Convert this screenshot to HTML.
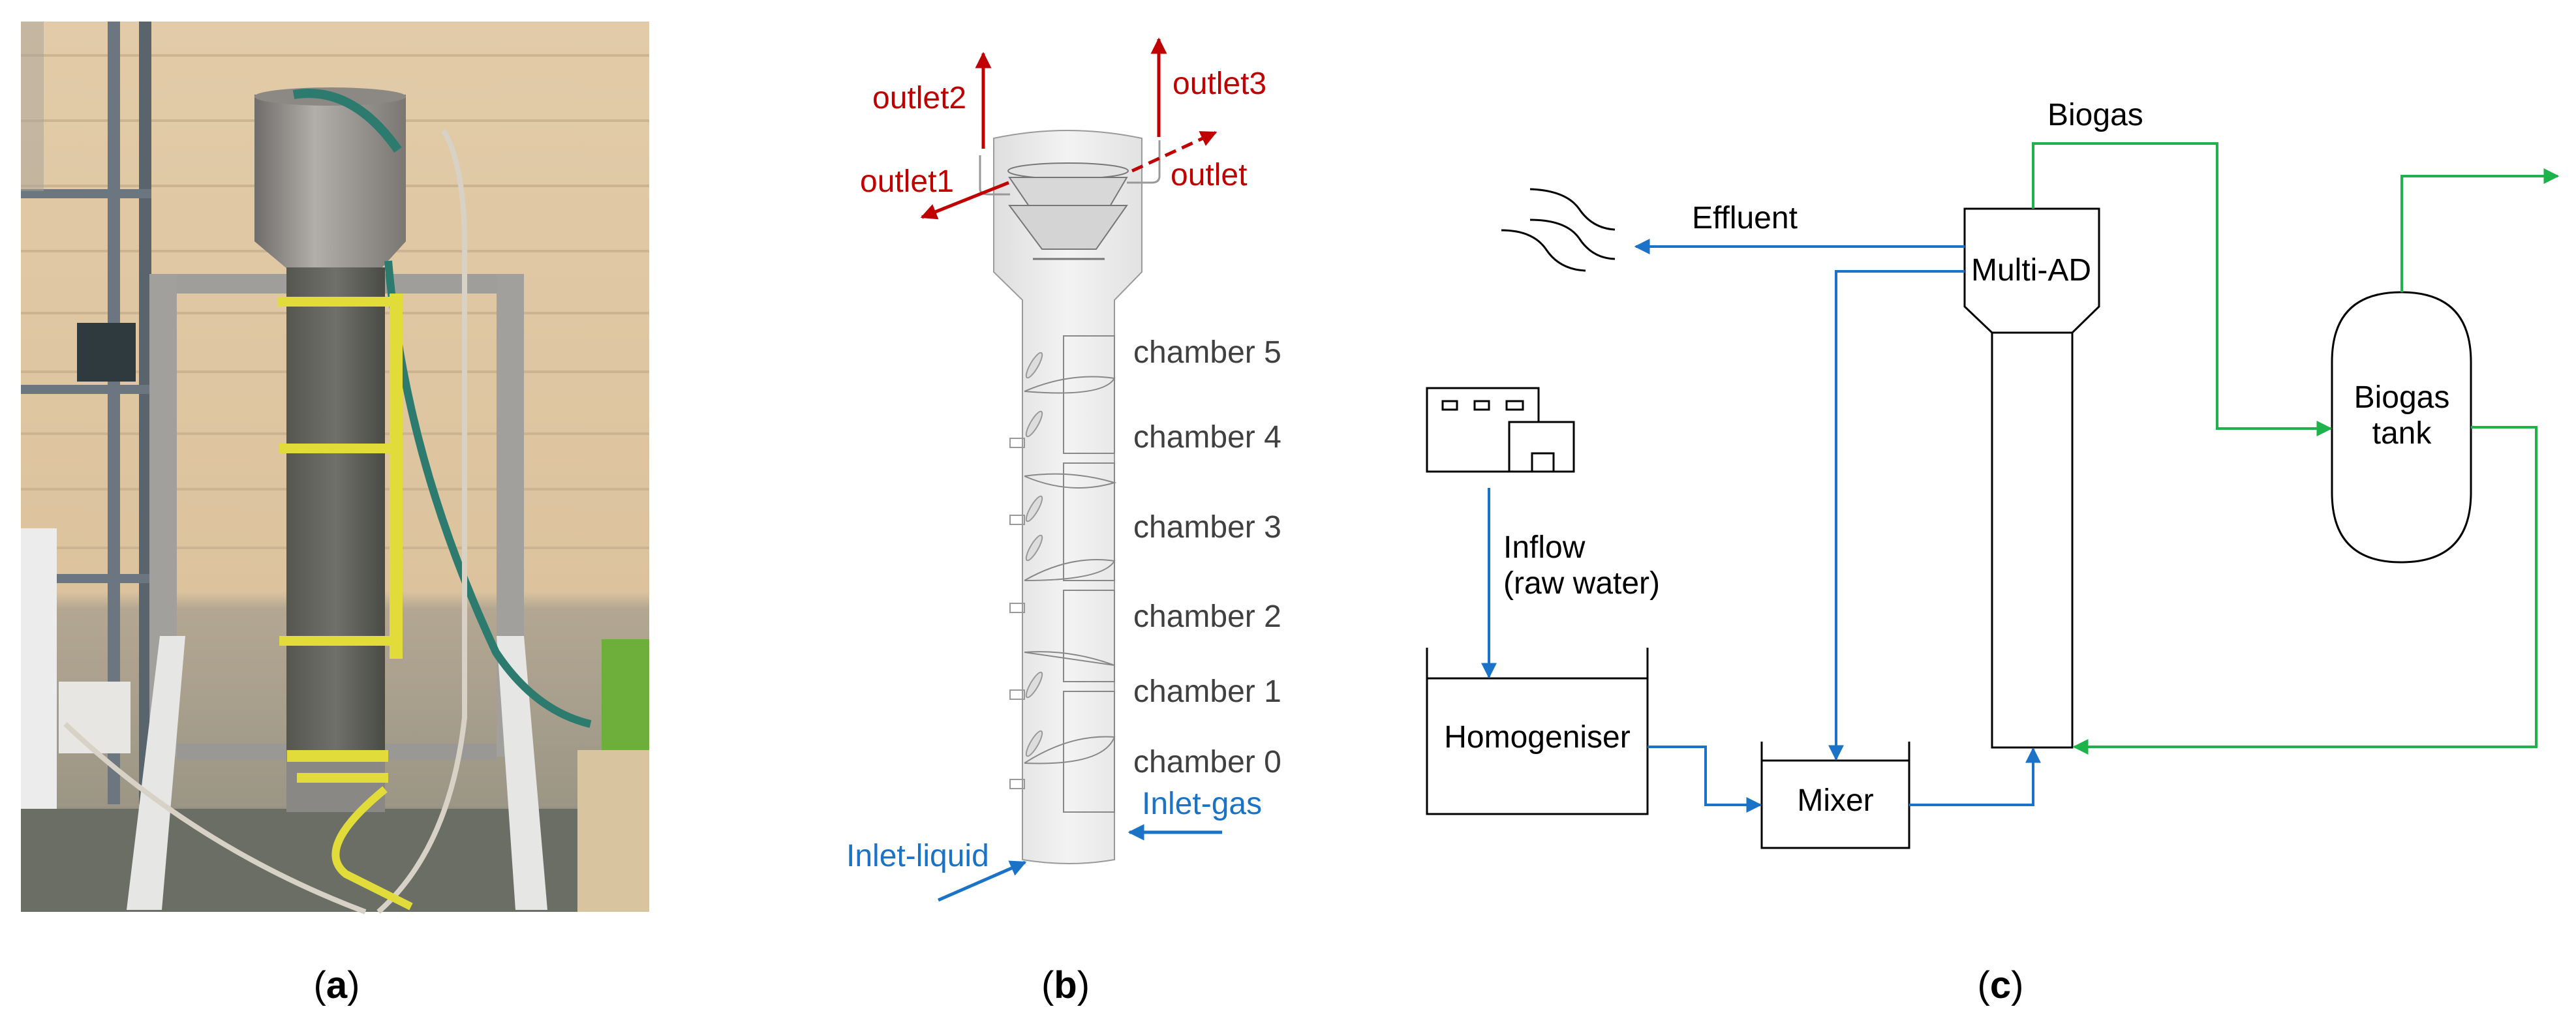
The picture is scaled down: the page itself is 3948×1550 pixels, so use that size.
<!DOCTYPE html>
<html><head><meta charset="utf-8"><style>
html,body{margin:0;padding:0;background:#fff;}
svg{display:block;}
text{font-family:"Liberation Sans",Arial,sans-serif;}
</style></head><body>
<svg width="3948" height="1550" viewBox="0 0 3948 1550" xmlns="http://www.w3.org/2000/svg">
<defs>
<marker id="ab" viewBox="0 0 10 10" refX="9" refY="5" markerWidth="6" markerHeight="6" orient="auto"><path d="M0,0 L10,5 L0,10 z" fill="#1a73c6"/></marker>
<marker id="ag" viewBox="0 0 10 10" refX="9" refY="5" markerWidth="6" markerHeight="6" orient="auto"><path d="M0,0 L10,5 L0,10 z" fill="#1db34a"/></marker>
<marker id="ar" viewBox="0 0 10 10" refX="9" refY="5" markerWidth="5" markerHeight="5" orient="auto"><path d="M0,0 L10,5 L0,10 z" fill="#c00000"/></marker>
<marker id="abl" viewBox="0 0 10 10" refX="9" refY="5" markerWidth="5" markerHeight="5" orient="auto"><path d="M0,0 L10,5 L0,10 z" fill="#1a73c6"/></marker>
<linearGradient id="wall" x1="0" y1="0" x2="0" y2="1"><stop offset="0" stop-color="#e2cba8"/><stop offset="0.64" stop-color="#dcc39e"/><stop offset="0.66" stop-color="#b3a792"/><stop offset="0.88" stop-color="#9c9686"/><stop offset="0.9" stop-color="#7c7d72"/><stop offset="1" stop-color="#6f7168"/></linearGradient>
<linearGradient id="steel" x1="0" y1="0" x2="1" y2="0"><stop offset="0" stop-color="#6f6d6a"/><stop offset="0.4" stop-color="#b2aeaa"/><stop offset="1" stop-color="#7a7773"/></linearGradient>
<linearGradient id="col" x1="0" y1="0" x2="1" y2="0"><stop offset="0" stop-color="#55574f"/><stop offset="0.5" stop-color="#6f706a"/><stop offset="1" stop-color="#4a4b45"/></linearGradient>
<linearGradient id="rb" x1="0" y1="0" x2="1" y2="0"><stop offset="0" stop-color="#dedede"/><stop offset="0.5" stop-color="#f3f3f3"/><stop offset="1" stop-color="#e2e2e2"/></linearGradient>
</defs>

<!-- (a) photo -->
<rect x="32" y="33" width="963" height="1365" fill="url(#wall)"/>
<g stroke="#c8b08e" stroke-width="4" opacity="0.8">
<line x1="32" y1="85" x2="995" y2="85"/><line x1="32" y1="185" x2="995" y2="185"/><line x1="32" y1="285" x2="995" y2="285"/><line x1="32" y1="385" x2="995" y2="385"/><line x1="32" y1="480" x2="995" y2="480"/><line x1="32" y1="570" x2="995" y2="570"/><line x1="32" y1="665" x2="995" y2="665"/><line x1="32" y1="750" x2="995" y2="750"/><line x1="32" y1="840" x2="995" y2="840"/>
</g>
<!-- shelving -->
<rect x="165" y="33" width="19" height="1200" fill="#6b7680"/>
<rect x="213" y="33" width="19" height="1200" fill="#5a646c"/>
<rect x="32" y="290" width="200" height="14" fill="#6b7680"/>
<rect x="32" y="590" width="200" height="14" fill="#6b7680"/>
<rect x="32" y="880" width="200" height="14" fill="#6b7680"/>
<rect x="32" y="33" width="35" height="260" fill="#a8a29a" opacity="0.5"/>
<rect x="118" y="495" width="90" height="90" fill="#2e3a3e"/>
<rect x="32" y="810" width="55" height="510" fill="#ececec"/>
<rect x="90" y="1045" width="110" height="110" fill="#e8e6e2"/>
<rect x="32" y="1240" width="963" height="158" fill="#6a6e64"/>
<!-- right side -->
<rect x="922" y="980" width="73" height="260" fill="#6eae3a"/>
<rect x="885" y="1150" width="110" height="248" fill="#d9c4a0"/>
<!-- frame -->
<rect x="229" y="420" width="574" height="30" fill="#a09e9a"/>
<rect x="229" y="420" width="42" height="740" fill="#a2a09c"/>
<rect x="761" y="420" width="42" height="740" fill="#a2a09c"/>
<rect x="271" y="1140" width="490" height="25" fill="#9a9894"/>
<polygon points="245,975 284,975 248,1395 194,1395" fill="#e6e6e4"/>
<polygon points="761,975 803,975 839,1395 790,1395" fill="#e6e6e4"/>
<!-- tank top -->
<rect x="390" y="145" width="232" height="225" fill="url(#steel)"/>
<ellipse cx="506" cy="148" rx="116" ry="14" fill="#8c8985"/>
<polygon points="390,370 622,370 584,412 440,412" fill="url(#steel)"/>
<path d="M450,145 Q540,130 610,230" stroke="#2d7a6e" stroke-width="14" fill="none"/>
<path d="M595,400 Q620,700 760,1000 Q820,1090 905,1110" stroke="#2d7a6e" stroke-width="12" fill="none"/>
<path d="M680,200 Q715,260 712,400 L712,1100 Q690,1300 580,1398" stroke="#d8d2c6" stroke-width="8" fill="none"/>
<path d="M100,1110 Q300,1300 560,1398" stroke="#d8d2c6" stroke-width="8" fill="none"/>
<!-- column -->
<rect x="439" y="410" width="151" height="835" fill="url(#col)"/>
<rect x="439" y="1150" width="151" height="95" fill="#8a8884"/>
<g fill="#e2dc3a">
<rect x="425" y="455" width="178" height="15"/><rect x="428" y="680" width="175" height="15"/><rect x="428" y="975" width="175" height="15"/><rect x="440" y="1150" width="155" height="18"/><rect x="455" y="1185" width="140" height="15"/>
<rect x="597" y="450" width="20" height="560"/>
</g>
<path d="M590,1210 Q480,1300 530,1340 L630,1390" stroke="#e2dc3a" stroke-width="12" fill="none"/>

<!-- (b) reactor -->
<path d="M1523,212 Q1636,188 1750,212 L1750,417 L1708,460 L1708,1318 Q1640,1330 1567,1318 L1567,460 L1523,417 Z" fill="url(#rb)" stroke="#9a9a9a" stroke-width="2"/>
<ellipse cx="1637" cy="262" rx="92" ry="12" fill="#e2e2e2" stroke="#777" stroke-width="2"/>
<polygon points="1547,272 1727,272 1690,335 1590,335" fill="#d8d8d8" stroke="#777" stroke-width="2"/>
<polygon points="1547,315 1727,315 1680,382 1597,382" fill="#d4d4d4" stroke="#777" stroke-width="2"/>
<line x1="1583" y1="397" x2="1693" y2="397" stroke="#777" stroke-width="3"/>
<path d="M1502,238 L1502,290 Q1502,298 1515,298 L1548,298" stroke="#999" stroke-width="3" fill="none"/>
<path d="M1777,215 L1777,270 Q1777,280 1765,280 L1727,280" stroke="#999" stroke-width="3" fill="none"/>
<g stroke="#888" stroke-width="2" fill="none">
<rect x="1630" y="515" width="78" height="180"/>
<rect x="1630" y="710" width="78" height="180"/>
<rect x="1630" y="905" width="78" height="140"/>
<rect x="1630" y="1060" width="78" height="185"/>
<path d="M1570,600 Q1640,570 1708,580 Q1690,610 1570,600"/>
<path d="M1570,730 Q1640,720 1708,740 Q1640,760 1570,730"/>
<path d="M1570,890 Q1640,850 1708,860 Q1690,890 1570,890"/>
<path d="M1570,1000 Q1640,995 1708,1020 Q1640,1010 1570,1000"/>
<path d="M1570,1170 Q1640,1125 1708,1130 Q1690,1175 1570,1170"/>
</g>
<g stroke="#999" stroke-width="2" fill="#ddd">
<ellipse cx="1585" cy="560" rx="6" ry="22" transform="rotate(30 1585 560)"/>
<ellipse cx="1585" cy="650" rx="6" ry="22" transform="rotate(30 1585 650)"/>
<ellipse cx="1585" cy="780" rx="6" ry="22" transform="rotate(30 1585 780)"/>
<ellipse cx="1585" cy="840" rx="6" ry="22" transform="rotate(30 1585 840)"/>
<ellipse cx="1585" cy="1050" rx="6" ry="22" transform="rotate(30 1585 1050)"/>
<ellipse cx="1585" cy="1140" rx="6" ry="22" transform="rotate(30 1585 1140)"/>
</g>
<g fill="none" stroke="#999" stroke-width="2">
<rect x="1548" y="672" width="22" height="14"/><rect x="1548" y="790" width="22" height="14"/><rect x="1548" y="925" width="22" height="14"/><rect x="1548" y="1058" width="22" height="14"/><rect x="1548" y="1195" width="22" height="14"/>
</g>
<g font-size="48" fill="#404040">
<text x="1737" y="556">chamber 5</text>
<text x="1737" y="686">chamber 4</text>
<text x="1737" y="824">chamber 3</text>
<text x="1737" y="961">chamber 2</text>
<text x="1737" y="1076">chamber 1</text>
<text x="1737" y="1184">chamber 0</text>
</g>
<g stroke="#c00000" stroke-width="5" fill="none">
<line x1="1507" y1="228" x2="1507" y2="82" marker-end="url(#ar)"/>
<line x1="1776" y1="210" x2="1776" y2="60" marker-end="url(#ar)"/>
<line x1="1546" y1="280" x2="1413" y2="333" marker-end="url(#ar)"/>
<line x1="1735" y1="262" x2="1863" y2="203" stroke-dasharray="18,10" marker-end="url(#ar)"/>
</g>
<g font-size="48" fill="#c00000">
<text x="1337" y="166">outlet2</text>
<text x="1797" y="144">outlet3</text>
<text x="1318" y="294">outlet1</text>
<text x="1794" y="284">outlet</text>
</g>
<g stroke="#1a73c6" stroke-width="5" fill="none">
<line x1="1873" y1="1276" x2="1731" y2="1276" marker-end="url(#abl)"/>
<line x1="1438" y1="1380" x2="1571" y2="1322" marker-end="url(#abl)"/>
</g>
<g font-size="48" fill="#1a73c6">
<text x="1750" y="1248">Inlet-gas</text>
<text x="1297" y="1328">Inlet-liquid</text>
</g>

<!-- (c) flow diagram -->
<g stroke="#000" stroke-width="3" fill="none">
<path d="M3011,320 L3217,320 L3217,470 L3176,510 L3053,510 L3011,470 Z" fill="#fff"/>
<rect x="3053" y="510" width="123" height="636" fill="#fff"/>
<path d="M3574,555 Q3574,448 3680,448 Q3787,448 3787,555 L3787,755 Q3787,862 3680,862 Q3574,862 3574,755 Z" fill="#fff"/>
<path d="M2187,993 L2187,1248 L2525,1248 L2525,993"/>
<line x1="2187" y1="1040" x2="2525" y2="1040"/>
<path d="M2700,1137 L2700,1300 L2926,1300 L2926,1137"/>
<line x1="2700" y1="1166" x2="2926" y2="1166"/>
<rect x="2187" y="595" width="171" height="128"/>
<rect x="2313" y="647" width="99" height="76" fill="#fff"/>
<rect x="2348" y="695" width="33" height="28"/>
<rect x="2211" y="615" width="22" height="13"/>
<rect x="2260" y="615" width="22" height="13"/>
<rect x="2309" y="615" width="25" height="13"/>
<path d="M2345,290 Q2400,292 2420,320 Q2440,350 2475,352"/>
<path d="M2345,337 Q2400,337 2420,365 Q2440,396 2475,397"/>
<path d="M2301,353 Q2350,353 2370,383 Q2390,413 2430,415"/>
</g>
<g stroke="#1a73c6" stroke-width="4" fill="none">
<line x1="3011" y1="378" x2="2507" y2="378" marker-end="url(#ab)"/>
<path d="M3011,416 L2814,416 L2814,1164" marker-end="url(#ab)"/>
<line x1="2282" y1="748" x2="2282" y2="1038" marker-end="url(#ab)"/>
<path d="M2525,1145 L2614,1145 L2614,1234 L2698,1234" marker-end="url(#ab)"/>
<path d="M2926,1234 L3116,1234 L3116,1148" marker-end="url(#ab)"/>
</g>
<g stroke="#1db34a" stroke-width="4" fill="none">
<path d="M3116,320 L3116,220 L3398,220 L3398,657 L3572,657" marker-end="url(#ag)"/>
<path d="M3681,448 L3681,270 L3920,270" marker-end="url(#ag)"/>
<path d="M3787,655 L3887,655 L3887,1145 L3179,1145" marker-end="url(#ag)"/>
</g>
<g font-size="48" fill="#000">
<text x="2593" y="350">Effluent</text>
<text x="3138" y="192">Biogas</text>
<text x="3113" y="430" text-anchor="middle">Multi-AD</text>
<text x="3681" y="625" text-anchor="middle">Biogas</text>
<text x="3681" y="680" text-anchor="middle">tank</text>
<text x="2304" y="855">Inflow</text>
<text x="2304" y="910">(raw water)</text>
<text x="2356" y="1146" text-anchor="middle">Homogeniser</text>
<text x="2813" y="1243" text-anchor="middle">Mixer</text>
</g>

<g font-family="Liberation Serif,serif" font-size="58" fill="#000" text-anchor="middle">
<text x="516" y="1530">(<tspan font-weight="bold">a</tspan>)</text>
<text x="1633" y="1530">(<tspan font-weight="bold">b</tspan>)</text>
<text x="3066" y="1530">(<tspan font-weight="bold">c</tspan>)</text>
</g>
</svg>
</body></html>
